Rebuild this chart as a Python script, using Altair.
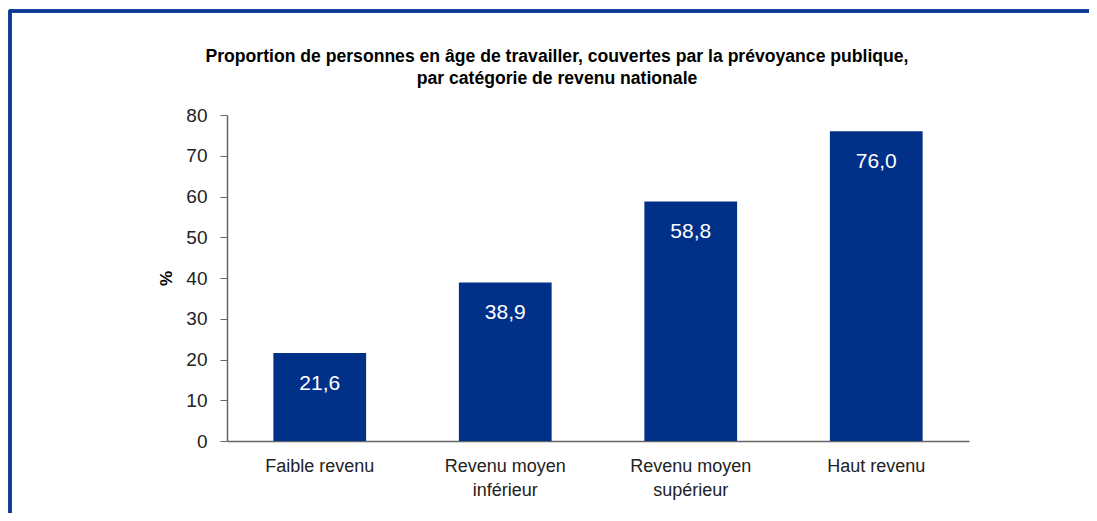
import altair as alt
import pandas as pd

categories = ["Faible revenu", "Revenu moyen inférieur", "Revenu moyen supérieur", "Haut revenu"]
values = [21.6, 38.9, 58.8, 76.0]
y_ticks = [0, 10, 20, 30, 40, 50, 60, 70, 80]
title_lines = ["Proportion de personnes en âge de travailler, couvertes par la prévoyance publique,",
               "par catégorie de revenu nationale"]

BLUE = "#003087"
FRAME = "#0b3a94"
FONT = "Liberation Sans"
TFONT = "Liberation Sans"

df = pd.DataFrame({"cat": categories, "value": values})
tdf = pd.DataFrame({"t": ["\n".join(title_lines)]})

W, H = 742, 326
PL, PT = 219, 107
OX, OY = PL + 8, PT + 8  # page position of plot origin

label_expr = ("datum.value == 'Revenu moyen inférieur' ? ['Revenu moyen','inférieur'] : "
              "datum.value == 'Revenu moyen supérieur' ? ['Revenu moyen','supérieur'] : datum.value")

x = alt.X("cat:N", sort=categories, title=None,
          scale=alt.Scale(paddingInner=0.5, paddingOuter=0.25),
          axis=alt.Axis(labelAngle=0, ticks=False, labelFontSize=18, labelColor="#222",
                        labelFont=FONT, labelPadding=16, labelLineHeight=24,
                        domainColor="#666", domainWidth=1.5, labelExpr=label_expr))
y = alt.Y("value:Q", title="%",
          scale=alt.Scale(domain=[0, 80]),
          axis=alt.Axis(values=y_ticks, grid=False, tickSize=7, tickColor="#666",
                        domainColor="#666", domainWidth=1.5, labelFontSize=19,
                        labelColor="#222", labelFont=FONT, labelPadding=13,
                        titleFont=FONT, titleFontSize=17, titleFontWeight="bold",
                        titleColor="#000", titlePadding=10))

bars = alt.Chart(df).mark_bar(color=BLUE).encode(x=x, y=y)

text = alt.Chart(df).transform_calculate(
    lab="replace(format(datum.value, '.1f'), '.', ',')"
).mark_text(color="white", fontSize=21, font=FONT, baseline="middle", dy=31).encode(
    x=alt.X("cat:N", sort=categories), y="value:Q", text="lab:N")

title = alt.Chart(tdf).mark_text(
    font=TFONT, fontSize=17.6, fontWeight="bold", color="#000", lineBreak="\n",
    lineHeight=22, align="center", baseline="middle").encode(
    x=alt.value(557 - OX), y=alt.value(57 - OY), text="t:N")

frame_top = alt.Chart(df).mark_rule(color=FRAME, strokeWidth=3).encode(
    x=alt.value(9 - OX), x2=alt.value(1097 - OX), y=alt.value(11 - OY))
frame_left = alt.Chart(df).mark_rule(color=FRAME, strokeWidth=3).encode(
    x=alt.value(10 - OX), y=alt.value(10 - OY), y2=alt.value(521 - OY))

chart = alt.layer(bars, text, title, frame_top, frame_left).properties(
    width=W, height=H,
    autosize=alt.AutoSizeParams(type="none"),
    padding={"left": PL, "top": PT, "right": 1081 - PL - W, "bottom": 505 - PT - H},
).configure_view(stroke=None)

chart.save("out.html", embed_options={"renderer": "svg", "actions": False})
